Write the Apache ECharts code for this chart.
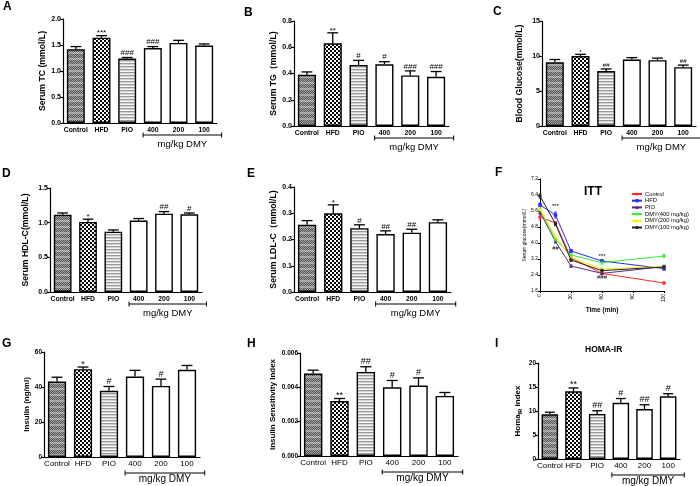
<!DOCTYPE html>
<html><head><meta charset="utf-8">
<script src="https://cdn.jsdelivr.net/npm/echarts@6/dist/echarts.min.js"></script>
<style>html,body{margin:0;padding:0;background:#fff}#c{width:700px;height:486px}</style>
</head><body><div id="c"></div>
<script>
// ---------- DATA ----------
const groups = ['Control','HFD','PIO','400','200','100'];

const tcMean = [1.42,1.64,1.24,1.44,1.54,1.49];
const tcSem  = [0.05,0.04,0.02,0.03,0.05,0.03];
const tcSig  = ['','***','###','###','',''];
const tcAxis = [0,2,0.5];

const tgMean = [0.39,0.63,0.465,0.47,0.385,0.375];
const tgSem  = [0.022,0.08,0.035,0.02,0.035,0.04];
const tgSig  = ['','**','#','#','###','###'];
const tgAxis = [0,0.8,0.2];

const bgMean = [9.1,10.0,7.85,9.5,9.4,8.4];
const bgSem  = [0.4,0.24,0.3,0.27,0.3,0.3];
const bgSig  = ['','*','##','','','##'];
const bgAxis = [0,15,5];

const hdlMean = [1.115,1.01,0.87,1.03,1.13,1.12];
const hdlSem  = [0.025,0.04,0.025,0.03,0.03,0.02];
const hdlSig  = ['','*','','','##','#'];
const hdlAxis = [0,1.5,0.5];

const ldlMean = [0.256,0.30,0.243,0.221,0.226,0.266];
const ldlSem  = [0.016,0.032,0.013,0.012,0.013,0.009];
const ldlSig  = ['','*','#','##','##',''];
const ldlAxis = [0,0.4,0.1];

const insMean = [43.1,50.2,37.8,46.0,40.6,49.8];
const insSem  = [2.5,1.2,2.5,3.5,3.9,2.5];
const insSig  = ['','*','#','','#',''];
const insAxis = [0,60,20];

const isiMean = [0.0048,0.0032,0.0049,0.0040,0.0041,0.0035];
const isiSem  = [0.0002,0.00015,0.0003,0.0004,0.00045,0.0002];
const isiSig  = ['','**','##','#','#',''];
const isiAxis = [0,0.006,0.002];

const homaMean = [9.3,14.1,9.4,11.7,10.4,13.05];
const homaSem  = [0.45,0.7,0.65,0.9,0.9,0.55];
const homaSig  = ['','**','##','#','##','#'];
const homaAxis = [0,20,5];

const ittTime = [0,15,30,60,120];
const ittNames = ['Control','HFD','PIO','DMY(400 mg/kg)','DMY(200 mg/kg)','DMY(100 mg/kg)'];
const ittControl = [5.3,5.0,3.25,2.48,2.0];
const ittHFD     = [5.9,5.4,3.6,3.1,2.72];
const ittPIO     = [5.55,4.07,2.85,2.48,2.82];
const ittD400    = [5.65,4.18,3.4,3.02,3.35];
const ittD200    = [5.7,4.32,3.28,2.7,2.82];
const ittD100    = [6.35,4.95,3.15,2.62,2.8];
const ittSemControl = [0.15,0.08,0.06,0.05,0.05];
const ittSemHFD     = [0.1,0.15,0.08,0.07,0.08];
const ittSemPIO     = [0.08,0.06,0.06,0.05,0.06];
const ittSemD400    = [0.08,0.08,0.06,0.08,0.08];
const ittSemD200    = [0.08,0.1,0.06,0.06,0.06];
const ittSemD100    = [0.1,0.08,0.06,0.06,0.08];
const ittXAxis = [0,120,30];
const ittYAxis = [1.6,7.2,0.8];
const ittSigTime  = [15,15,60,60];
const ittSigValue = [5.82,3.75,3.35,2.28];
const ittSigText  = ['***','##','***','###'];

// ---------- STYLE ----------
const FONT = '"Liberation Sans", Arial, sans-serif';
function tile(w,h,draw){const c=document.createElement('canvas');c.width=w;c.height=h;draw(c.getContext('2d'));return c;}
const patHFD = tile(4,4,g=>{g.fillStyle='#fff';g.fillRect(0,0,4,4);g.fillStyle='#000';g.fillRect(0,0,2,2);g.fillRect(2,2,2,2);});
const patPIO = tile(2,3,g=>{g.fillStyle='#f6f6f6';g.fillRect(0,0,2,3);g.fillStyle='#9a9a9a';g.fillRect(0,0,2,1);g.fillStyle='#d2d2d2';g.fillRect(0,1,2,1);});
const patCtl = tile(2,6,g=>{for(let y=0;y<6;y++)for(let x=0;x<2;x++){const d=(x+y)%2;g.fillStyle= y<4 ? (d?'#505050':'#a6a6a6') : (d?'#8a8a8a':'#c4c4c4');g.fillRect(x,y,1,1);}});
const fills = [{image:patCtl,repeat:'repeat'},{image:patHFD,repeat:'repeat'},{image:patPIO,repeat:'repeat'},'#fff','#fff','#fff'];

const barPanels = [
 {idx:0, mean:tcMean, sem:tcSem, sig:tcSig, axis:tcAxis, dec:1, name:'Serum TC (mmol/L)', nameGap:14, grid:{left:63,top:19,width:154,height:104}, type:1},
 {idx:1, mean:tgMean, sem:tgSem, sig:tgSig, axis:tgAxis, dec:1, name:'Serum TG（mmol/L)', nameGap:16, grid:{left:294,top:21,width:155,height:105}, type:1},
 {idx:2, mean:bgMean, sem:bgSem, sig:bgSig, axis:bgAxis, dec:0, name:'Blood Glucose(mmol/L)', nameGap:18, grid:{left:542,top:21,width:154,height:105}, type:1, sigSize:6},
 {idx:3, mean:hdlMean, sem:hdlSem, sig:hdlSig, axis:hdlAxis, dec:1, name:'Serum HDL-C(mmol/L)', nameGap:19.5, grid:{left:50,top:188,width:152,height:104}, type:1},
 {idx:4, mean:ldlMean, sem:ldlSem, sig:ldlSig, axis:ldlAxis, dec:1, name:'Serum LDL-C（mmol/L)', nameGap:14, grid:{left:294,top:187,width:157,height:105}, type:1},
 {idx:6, mean:insMean, sem:insSem, sig:insSig, axis:insAxis, dec:0, name:'Insulin (ng/ml)', nameGap:13, grid:{left:44,top:352,width:156,height:105}, type:2},
 {idx:7, mean:isiMean, sem:isiSem, sig:isiSig, axis:isiAxis, dec:3, name:'Insulin Sensitivity Index', nameGap:23, grid:{left:300,top:353,width:158,height:103}, type:2},
 {idx:8, mean:homaMean, sem:homaSem, sig:homaSig, axis:homaAxis, dec:0, name:'{a|Homa}{b|IR}{a| index}', nameGap:15, grid:{left:538,top:363,width:142,height:96}, type:2, rich:true},
];

const grids=[], xAxes=[], yAxes=[], series=[], titles=[];
const letterPos = {A:[3,1],B:[244,7],C:[493,6],D:[2,168],E:[247,168],F:[495,167],G:[2,338],H:[247,338],I:[495,338]};
Object.keys(letterPos).forEach(k=>titles.push({text:k,left:letterPos[k][0],top:letterPos[k][1],padding:0,textStyle:{fontSize:12,fontWeight:'bold',color:'#000',fontFamily:FONT}}));
titles.push({text:'ITT',left:584,top:186,padding:0,textStyle:{fontSize:12,fontWeight:'bold',color:'#000',fontFamily:FONT}});
titles.push({text:'HOMA-IR',left:585,top:345,padding:0,textStyle:{fontSize:8.5,fontWeight:'bold',color:'#000',fontFamily:FONT}});

function errBars(i, mean, sem, sig, sigSize){
  return {type:'custom', xAxisIndex:i, yAxisIndex:i, z:5, silent:true,
    data: mean.map((m,j)=>[j,m,m+sem[j]]),
    renderItem(params, api){
      const j=params.dataIndex;
      const p0=api.coord([api.value(0),api.value(1)]), p1=api.coord([api.value(0),api.value(2)]);
      const hw=api.size([1,0])[0]*0.21;
      const ch=[
        {type:'line',shape:{x1:p0[0],y1:p0[1],x2:p1[0],y2:p1[1]},style:{stroke:'#000',lineWidth:1.3}},
        {type:'line',shape:{x1:p1[0]-hw,y1:p1[1],x2:p1[0]+hw,y2:p1[1]},style:{stroke:'#000',lineWidth:1.3}}
      ];
      if(sig[j]) ch.push({type:'text',style:{x:p1[0],y:p1[1]+(sig[j][0]==='*'?1.5:-0.5),text:sig[j],fill:'#000',font:'normal '+sigSize+'px '+FONT,align:'center',verticalAlign:'bottom'}});
      return {type:'group',children:ch};
    }};
}

barPanels.forEach(p=>{
  const i=p.idx;
  grids[i]=Object.assign({containLabel:false},p.grid);
  const t1 = p.type===1;
  xAxes[i]={gridIndex:i,type:'category',data:groups,
    axisLine:{lineStyle:{color:'#000',width:1.2}},axisTick:{show:false},
    axisLabel:{interval:0,color:'#000',fontFamily:FONT,fontSize:t1?6.8:8,fontWeight:t1?'bold':'normal',margin:t1?4:3}};
  yAxes[i]={gridIndex:i,type:'value',min:p.axis[0],max:p.axis[1],interval:p.axis[2],
    axisLine:{show:true,lineStyle:{color:'#000',width:1.2}},axisTick:{show:true,length:3,lineStyle:{color:'#000',width:1.2}},
    splitLine:{show:false},
    axisLabel:{color:'#000',fontFamily:FONT,fontSize:t1?7:6.5,fontWeight:'bold',margin:2,formatter:v=>v.toFixed(p.dec)},
    name:p.name,nameLocation:'middle',nameGap:p.nameGap,
    nameTextStyle:{color:'#000',fontFamily:FONT,fontSize:t1?8.7:8,fontWeight:'bold',
      rich: p.rich ? {a:{fontSize:8,fontWeight:'bold',fontFamily:FONT,lineHeight:10},b:{fontSize:5.5,fontWeight:'bold',fontFamily:FONT,lineHeight:6,verticalAlign:'bottom'}} : undefined}};
  series.push({type:'bar',xAxisIndex:i,yAxisIndex:i,barWidth:'70%',silent:true,
    itemStyle:{borderColor:'#000',borderWidth:1.4},
    data:p.mean.map((v,j)=>({value:v,itemStyle:{color:fills[j]}}))});
  series.push(errBars(i,p.mean,p.sem,p.sig,p.sigSize||(t1?8:9)));
});

// ---------- ITT panel ----------
grids[5]={left:540,top:179,width:124,height:112};
xAxes[5]={gridIndex:5,type:'value',min:ittXAxis[0],max:ittXAxis[1],interval:ittXAxis[2],
  axisLine:{lineStyle:{color:'#000',width:1}},axisTick:{length:2,lineStyle:{color:'#000'}},splitLine:{show:false},
  axisLabel:{color:'#000',fontFamily:FONT,fontSize:5,rotate:90,margin:3},
  name:'Time (min)',nameLocation:'middle',nameGap:11,nameTextStyle:{color:'#000',fontFamily:FONT,fontSize:6.5,fontWeight:'bold'}};
yAxes[5]={gridIndex:5,type:'value',min:ittYAxis[0],max:ittYAxis[1],interval:ittYAxis[2],
  axisLine:{show:true,lineStyle:{color:'#000',width:1}},axisTick:{show:true,length:2,lineStyle:{color:'#000'}},splitLine:{show:false},
  axisLabel:{color:'#000',fontFamily:FONT,fontSize:5,margin:2,formatter:v=>v.toFixed(1)},
  name:'Serum glucose(mmol/L)',nameLocation:'middle',nameGap:10,nameTextStyle:{color:'#000',fontFamily:FONT,fontSize:5}};
const ittVals=[ittControl,ittHFD,ittPIO,ittD400,ittD200,ittD100];
const ittSems=[ittSemControl,ittSemHFD,ittSemPIO,ittSemD400,ittSemD200,ittSemD100];
const ittColors=['#ff2a2a','#2a2aff','#5a2a78','#33ee33','#f0f000','#222222'];
const ittSymbols=['circle','rect','triangle','diamond','triangle','circle'];
ittVals.forEach((vals,k)=>{
  series.push({type:'line',name:ittNames[k],xAxisIndex:5,yAxisIndex:5,data:ittTime.map((t,j)=>[t,vals[j]]),
    symbol:ittSymbols[k],symbolSize:3.5,lineStyle:{width:1,color:ittColors[k]},itemStyle:{color:ittColors[k]},silent:true,z:3+k*0.1});
  series.push({type:'custom',xAxisIndex:5,yAxisIndex:5,silent:true,z:3,
    data:ittTime.map((t,j)=>[t,vals[j]-ittSems[k][j],vals[j]+ittSems[k][j]]),
    renderItem(params,api){
      const a=api.coord([api.value(0),api.value(1)]), b=api.coord([api.value(0),api.value(2)]);
      const s={stroke:ittColors[k],lineWidth:0.8};
      return {type:'group',children:[
        {type:'line',shape:{x1:a[0],y1:a[1],x2:b[0],y2:b[1]},style:s},
        {type:'line',shape:{x1:a[0]-1.5,y1:a[1],x2:a[0]+1.5,y2:a[1]},style:s},
        {type:'line',shape:{x1:b[0]-1.5,y1:b[1],x2:b[0]+1.5,y2:b[1]},style:s}]};
    }});
});
series.push({type:'custom',xAxisIndex:5,yAxisIndex:5,silent:true,z:6,
  data:ittSigTime.map((t,j)=>[t,ittSigValue[j]]),
  renderItem(params,api){
    const p=api.coord([api.value(0),api.value(1)]);
    return {type:'text',style:{x:p[0],y:p[1],text:ittSigText[params.dataIndex],fill:'#000',font:'normal 6px '+FONT,align:'center',verticalAlign:'middle'}};
  }});

const legend={data:ittNames,left:631,top:191,orient:'vertical',padding:0,itemWidth:10,itemHeight:4,itemGap:0.7,
  textStyle:{fontSize:5.8,fontFamily:FONT,color:'#000',lineHeight:6,padding:[0,0,0,-2]},selectedMode:false};

const chart=echarts.init(document.getElementById('c'));
chart.setOption({animation:false,backgroundColor:'#fff',title:titles,grid:grids,xAxis:xAxes,yAxis:yAxes,series:series,legend:legend});

// ---------- DMY brackets ----------
const graphics=[];
barPanels.forEach(p=>{
  const i=p.idx, t1=p.type===1;
  const x3=chart.convertToPixel({xAxisIndex:i},groups[3]);
  const x4=chart.convertToPixel({xAxisIndex:i},groups[4]);
  const x5=chart.convertToPixel({xAxisIndex:i},groups[5]);
  const bw=x4-x3;
  const y0=chart.convertToPixel({yAxisIndex:i},p.axis[0]);
  const yb=y0+(t1?12:16);
  const L=x3-bw*0.38, R=x5+bw*0.68;
  const ls={stroke:'#000',lineWidth:1};
  graphics.push({type:'line',silent:true,shape:{x1:L,y1:yb,x2:R,y2:yb},style:ls});
  graphics.push({type:'line',silent:true,shape:{x1:L,y1:yb-2.5,x2:L,y2:yb+2.5},style:ls});
  graphics.push({type:'line',silent:true,shape:{x1:R,y1:yb-2.5,x2:R,y2:yb+2.5},style:ls});
  graphics.push({type:'text',silent:true,x:(L+R)/2,y:y0+(t1?21:22),style:{text:'mg/kg DMY',fill:'#000',font:'normal '+(t1?9.5:10)+'px '+FONT,align:'center',verticalAlign:'middle'}});
});
chart.setOption({graphic:graphics});
</script></body></html>
